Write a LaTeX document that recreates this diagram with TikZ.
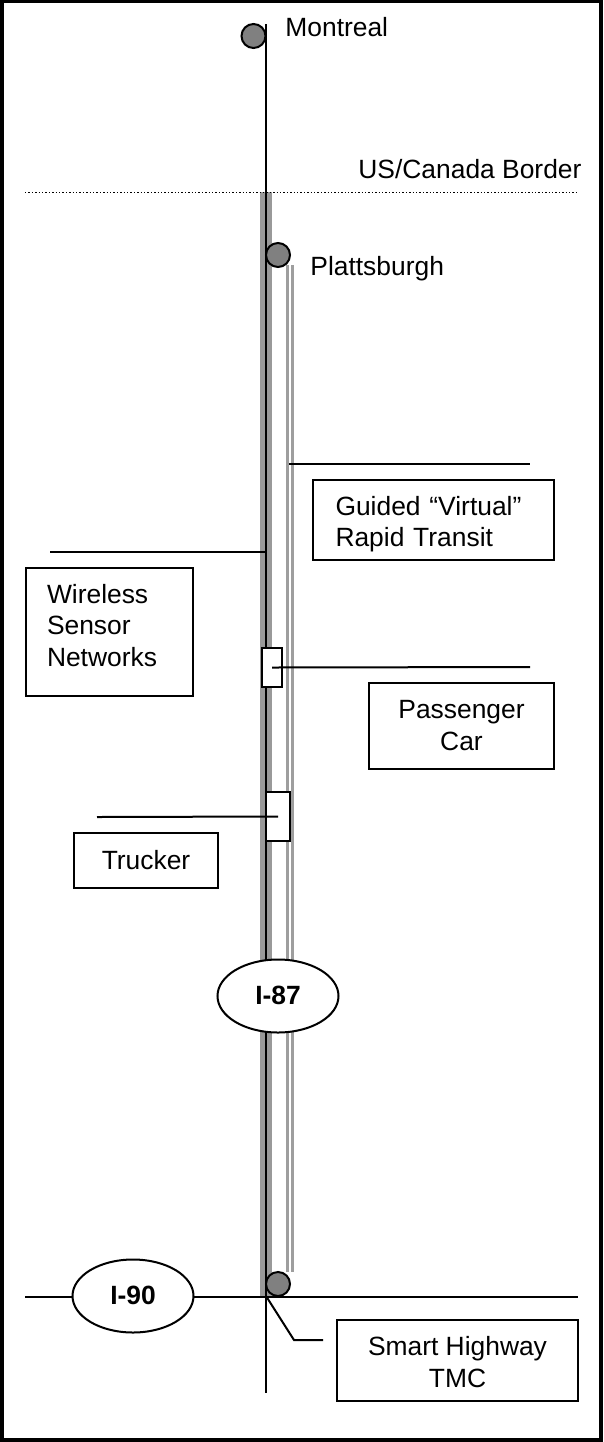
\documentclass[tikz,border=0pt]{standalone}
\usepackage{fontspec}
\setmainfont{Liberation Sans}
\usetikzlibrary{shapes.geometric}
\begin{document}
\begin{tikzpicture}[
  x=0.5pt,y=-0.5pt,
  blk/.style={line width=1pt,black},
  lbl/.style={font=\fontsize{13.2}{15}\selectfont,inner sep=0pt},
  stg/.style={draw,line width=1pt,fill=white,align=center,inner sep=0pt,font=\fontsize{13.2}{15.75}\selectfont},
  drop/.style={text height=#1,text depth=0pt},
  lift/.style={text height=0pt,text depth=#1},
  city/.style={draw,line width=1pt,fill=gray,circle,minimum size=12pt,inner sep=0pt},
  veh/.style={draw,line width=1pt,fill=white,inner sep=0pt},
  shield/.style={draw,line width=1pt,fill=white,ellipse,minimum width=60.5pt,minimum height=36.5pt,inner sep=0pt,font=\fontsize{13.2}{15}\selectfont\bfseries},
  road/.style={line width=6pt,black!40},
  lane/.style={line width=1.35pt,black!38}
]
\useasboundingbox (0,0) rectangle (604,1442);
\draw[line width=2.25pt] (2,0.5) rectangle (601,1440);

% corridor ends
\coordinate (bordertop) at (266,192);
\coordinate (roadend) at (266,1296);
\coordinate (lane1top) at (287.3,265);
\coordinate (lane1end) at (287.3,1272);
\coordinate (lane2top) at (292.7,265);
\coordinate (lane2end) at (292.7,1272);
\draw[road] (bordertop) -- (roadend);
\draw[lane] (lane1top) -- (lane1end);
\draw[lane] (lane2top) -- (lane2end);

% border and main lines
\coordinate (borderw) at (25,192.5);
\coordinate (bordere) at (576,192.5);
\draw[line width=0.7pt,densely dotted] (borderw) -- (bordere);
\node[lbl,anchor=base west] (borderlbl) at (358,178) {US/Canada Border};

\coordinate (northend) at (266,24);
\coordinate (southend) at (266,1393);
\coordinate (westend) at (25,1296.5);
\coordinate (eastend) at (578,1296.5);
\draw[blk] (northend) -- (southend);
\draw[blk] (westend) -- (eastend);

% cities
\node[city] (montreal) at (253.5,36) {};
\node[city] (plattsburgh) at (278,255) {};
\node[city] (albany) at (278,1284) {};
\node[lbl,anchor=base west] (montreallbl) at (285,36) {Montreal};
\node[lbl,anchor=base west] (plattsburghlbl) at (310,275) {Plattsburgh};

% vehicles
\node[veh,minimum width=10pt,minimum height=19.5pt] (car) at (272,667.5) {};
\node[veh,minimum width=12pt,minimum height=24.5pt] (truck) at (278,816.5) {};

% boxes
\node[stg,lift=5pt,minimum width=120.5pt,minimum height=40pt,align=left,text width=98pt,inner xsep=11.25pt] (transit) at (433.5,520) {Guided “Virtual”\\Rapid Transit};
\node[stg,lift=29pt,minimum height=64pt,align=left,text width=62.5pt,inner xsep=10.5pt] (sensor) at (109.5,632) {Wireless\\Sensor\\Networks};
\node[stg,drop=24pt,minimum width=92.5pt,minimum height=43pt] (passenger) at (461.5,726) {Passenger\\Car};
\node[stg,minimum width=72pt,minimum height=27.5pt] (trucker) at (146,860.5) {Trucker};
\node[stg,drop=26.5pt,minimum width=120.5pt,minimum height=40.5pt] (tmc) at (457.5,1360.5) {Smart Highway\\TMC};

% leaders
\coordinate (transitw) at (289,464);
\coordinate (transite) at (530,464);
\coordinate (sensorw) at (50,552);
\coordinate (sensore) at (266,552);
\coordinate (care) at (530,667);
\coordinate (truckw) at (97,817);
\coordinate (tmcjoint) at (294,1340);
\coordinate (tmcend) at (323,1340);
\draw[blk] (transitw) -- (transite);
\draw[blk] (sensorw) -- (sensore);
\draw[blk] (car.center) -- (care);
\draw[blk] (truckw) -- (truck.center);
\draw[blk] (roadend) -- (tmcjoint) -- (tmcend);

% route shields
\node[shield,drop=8pt] (i87) at (278,996) {I-87};
\node[shield,drop=8pt] (i90) at (133,1296) {I-90};
\end{tikzpicture}
\end{document}
